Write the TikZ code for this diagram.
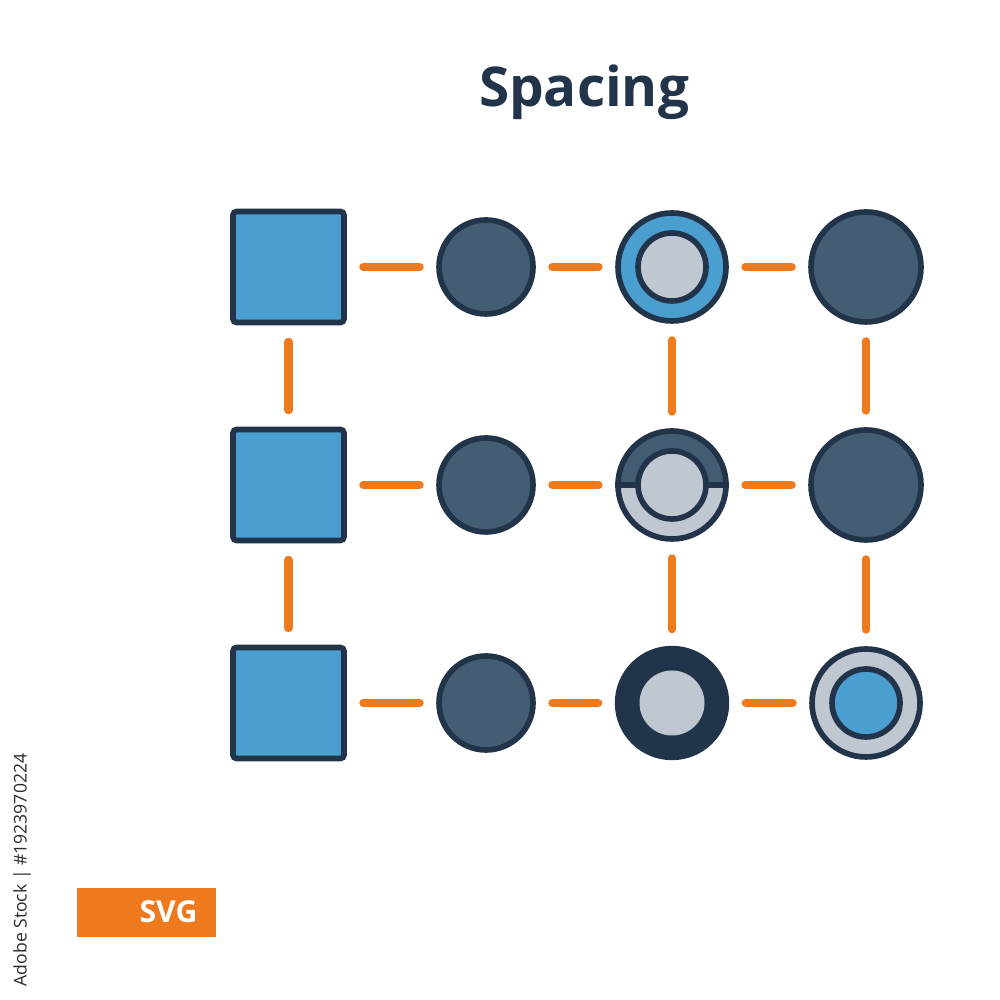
\documentclass[tikz,border=0pt]{standalone}
\usepackage{fontspec}
\setmainfont{Open Sans}
\usetikzlibrary{positioning}
\definecolor{bleu}{HTML}{4A9FD0}
\definecolor{marine}{HTML}{22344A}
\definecolor{ardoise}{HTML}{435D75}
\definecolor{gris}{HTML}{BFC8D0}
\definecolor{trait}{HTML}{EF7A1D}
\definecolor{legende}{HTML}{2B2B2B}

\begin{document}
\begin{tikzpicture}[
  bord/.style={draw=marine, line width=1.6pt, inner sep=0pt},
  carre/.style={bord, fill=bleu, minimum size=1.11cm, rounded corners=1pt},
  rond/.style={bord, circle, fill=ardoise, minimum size=0.94cm},
  large/.style={bord, circle, fill=ardoise, minimum size=1.10cm},
  anneau/.style={bord, circle, minimum size=1.08cm},
  coeur/.style={bord, circle, minimum size=0.68cm},
  plein/.style={circle, fill=marine, draw=marine, inner sep=0pt, minimum size=1.13cm},
  noyau/.style={circle, fill=gris, inner sep=0pt, minimum size=0.65cm},
  lien/.style={draw=trait, line width=2.3pt, line cap=round, shorten <=0.165cm, shorten >=0.165cm},
]
\useasboundingbox (0,0) rectangle (10,10);
% le titre
\node[anchor=base, font=\bfseries\fontsize{15.6}{18}\selectfont, text=marine] (titre) at (5.84,8.93) {Spacing};
% premiere colonne : les carres
\node[carre] (s1) at (2.885,7.33) {};
\node[carre] (s2) at (2.885,5.15) {};
\node[carre] (s3) at (2.885,2.97) {};
% deuxieme colonne
\node[rond] (c1) at (4.86,7.33) {};
\node[rond] (c2) at (4.86,5.15) {};
\node[rond] (c3) at (4.86,2.97) {};
% troisieme colonne
\node[anneau, fill=bleu] (a1) at (6.72,7.33) {};
\node[coeur, fill=gris] (a1i) at (a1.center) {};
\node[anneau, fill=gris, path picture={\fill[ardoise] (path picture bounding box.west) rectangle (path picture bounding box.north east);}] (a2) at (6.72,5.15) {};
\draw[bord] (a2.west) -- (a2.east);
\node[coeur, fill=gris] (a2i) at (a2.center) {};
\node[plein] (a3) at (6.72,2.97) {};
\node[noyau] (a3i) at (a3.center) {};
% quatrieme colonne
\node[large] (d1) at (8.66,7.33) {};
\node[large] (d2) at (8.66,5.15) {};
\node[anneau, fill=gris] (d3) at (8.66,2.97) {};
\node[coeur, fill=bleu] (d3i) at (d3.center) {};
% liens
\draw[lien] (s1) -- (c1);
\draw[lien] (c1) -- (a1);
\draw[lien] (a1) -- (d1);
\draw[lien] (s2) -- (c2);
\draw[lien] (c2) -- (a2);
\draw[lien] (a2) -- (d2);
\draw[lien] (s3) -- (c3);
\draw[lien] (c3) -- (a3);
\draw[lien] (a3) -- (d3);
\draw[lien] (s1) -- (s2);
\draw[lien] (s2) -- (s3);
\draw[lien] (a1) -- (a2);
\draw[lien] (a2) -- (a3);
\draw[lien] (d1) -- (d2);
\draw[lien] (d2) -- (d3);
% le bandeau
\fill[trait] (0.77,0.63) rectangle (2.16,1.12);
\node[anchor=base, text=white, font=\bfseries\fontsize{8.6}{10}\selectfont] (svg) at (1.685,0.77) {SVG};
% la mention verticale
\node[rotate=90, text=legende, font=\fontsize{5.0}{6}\selectfont] (credit) at (0.22,1.30) {Adobe Stock | \#1923970224};
\end{tikzpicture}
\end{document}
